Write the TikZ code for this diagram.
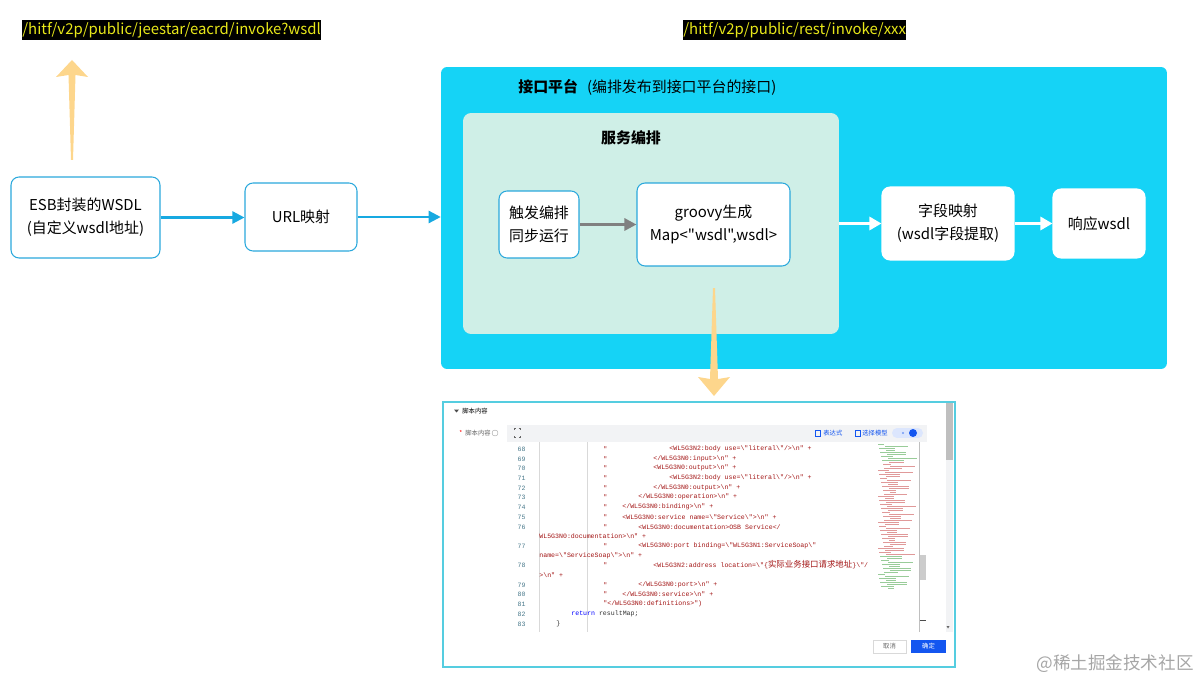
\documentclass[tikz,border=0pt]{standalone}
\usepackage{fontspec}
\setmainfont{Noto Sans CJK SC}[Ligatures=TeXOff]
\newfontfamily\codefont{Liberation Mono}[Ligatures=TeXOff]
\newfontfamily\cjk{Noto Sans CJK SC}[Ligatures=TeXOff]
\usepackage{xcolor}
\usetikzlibrary{arrows.meta,positioning}
\definecolor{platcyan}{HTML}{15D3F6}
\definecolor{svcmint}{HTML}{CFEFE7}
\definecolor{boxblue}{HTML}{2AA8DC}
\definecolor{arrblue}{HTML}{17A9E1}
\definecolor{fatorange}{HTML}{FDD68C}
\definecolor{urlyellow}{HTML}{E8E81A}
\definecolor{shotcyan}{HTML}{55CDE0}
\definecolor{codered}{HTML}{A31515}
\definecolor{lnblue}{HTML}{4A7A8C}
\definecolor{uiblue}{HTML}{1456F0}
\definecolor{toolgray}{HTML}{F2F3F5}
\newcommand{\bsq}{\textbackslash"}
\newcommand{\bsn}{\textbackslash n}

\begin{document}
\begin{tikzpicture}[x=0.02cm, y=-0.02cm,
    flowbox/.style={draw=boxblue, fill=white, rounded corners=0.16cm, line width=0.6pt, align=center, font=\fontsize{8.5}{13}\selectfont},
    innerbox/.style={flowbox, draw=white},
    urltag/.style={fill=black, text=urlyellow, inner xsep=0pt, inner ysep=0pt, minimum height=0.4cm, anchor=west, font=\fontsize{8.5}{10}\selectfont},
    bluearr/.style={-{Triangle[length=0.24cm, width=0.24cm]}, draw=arrblue, line width=1.3pt},
    whitearr/.style={-{Triangle[length=0.24cm, width=0.26cm]}, draw=white, line width=1.6pt},
    grayarr/.style={-{Triangle[length=0.24cm, width=0.24cm]}, draw=gray, line width=1.6pt},
    uitext/.style={inner sep=0pt, anchor=west, font=\fontsize{3.6}{4}\selectfont},
    codeline/.style={inner sep=0pt, anchor=west, text=codered, font=\codefont\fontsize{3.75}{4.5}\selectfont},
    lineno/.style={inner sep=0pt, anchor=east, text=lnblue, font=\codefont\fontsize{3.75}{4.5}\selectfont}
]
\useasboundingbox (0,0) rectangle (1200,682);

\node[urltag] (wsdlurl) at (22,30) {/hitf/v2p/public/jeestar/eacrd/invoke?wsdl};
\node[urltag] (resturl) at (683,30) {/hitf/v2p/public/rest/invoke/xxx};

\fill[fatorange] (72,60) -- (88,77) -- (75.5,75) -- (73,160) -- (71,160) -- (68.5,75) -- (56,77) -- cycle;

\node[flowbox, minimum width=2.98cm, minimum height=1.62cm] (esb) at (85.5,217.5) {ESB封装的WSDL\\(自定义wsdl地址)};
\node[flowbox, minimum width=2.24cm, minimum height=1.36cm] (url) at (301,217) {URL映射};

\node[fill=platcyan, rounded corners=0.12cm, minimum width=14.52cm, minimum height=6.04cm] (plat) at (804,218) {};
\node[anchor=west, inner sep=0pt, font=\fontsize{8.5}{13}\selectfont] (plattitle) at (518,87) {\textbf{接口平台}\hspace{0.6em}(编排发布到接口平台的接口)};
\node[fill=svcmint, rounded corners=0.16cm, minimum width=7.52cm, minimum height=4.42cm] (svc) at (651,223.5) {};
\node[font=\bfseries\fontsize{8.5}{13}\selectfont, inner sep=0pt] (svctitle) at (631,138) {服务编排};

\node[flowbox, minimum width=1.6cm, minimum height=1.34cm] (trig) at (539,224.5) {触发编排\\同步运行};
\node[flowbox, minimum width=3.06cm, minimum height=1.66cm] (groovy) at (713.5,224.5) {groovy生成\\Map<"wsdl",wsdl>};
\node[innerbox, minimum width=2.64cm, minimum height=1.46cm] (fieldmap) at (948,223.5) {字段映射\\(wsdl字段提取)};
\node[innerbox, minimum width=1.84cm, minimum height=1.38cm] (resp) at (1099,223.5) {响应wsdl};

\draw[bluearr] (esb.east) -- (esb.east -| url.west);
\draw[bluearr] (url.east) -- (url.east -| plat.west);
\draw[grayarr] (trig.east) -- (trig.east -| groovy.west);
\draw[whitearr] (svc.east) -- (svc.east -| fieldmap.west);
\draw[whitearr] (fieldmap.east) -- (fieldmap.east -| resp.west);

\fill[fatorange] (714,396) -- (730,377) -- (718,379) -- (715,288) -- (713,288) -- (710,379) -- (698,377) -- cycle;

\node[draw=shotcyan, fill=white, line width=0.8pt, minimum width=10.24cm, minimum height=5.3cm] (shot) at (699,534.5) {};
\fill[black!70] (454,409.5) -- (459,409.5) -- (456.5,412.5) -- cycle;
\node[uitext] (shothdr) at (462,411) {脚本内容};
\node[uitext, text=red] (star) at (459,433) {*};
\node[uitext, text=black!60] (fieldlbl) at (465,433) {脚本内容};
\draw[black!40, line width=0.2pt] (495,433) circle (3);
\fill[toolgray] (507,425) rectangle (927,442);
\draw[black!60, line width=0.3pt] (514,430) -- (514,428.5) -- (515.5,428.5) (518.5,428.5) -- (520,428.5) -- (520,430) (520,436) -- (520,437.5) -- (518.5,437.5) (515.5,437.5) -- (514,437.5) -- (514,436);
\draw[uiblue, line width=0.3pt] (815,430) rectangle (820,436);
\node[uitext, text=uiblue] (exprbtn) at (823,433) {表达式};
\draw[uiblue, line width=0.3pt] (855,430) rectangle (860,436);
\node[uitext, text=uiblue] (modelbtn) at (862,433) {选择模型};
\fill[uiblue!15] (897,428) rectangle (918,438);
\fill[uiblue!15] (897,433) circle (5) (918,433) circle (5);
\fill[uiblue!60] (903,433) circle (1.2);
\fill[uiblue] (913,433) circle (4);

\draw[black!15, line width=0.3pt] (539,442) -- (539,632) (587,442) -- (587,632);
\foreach \yy/\num in {449/68,459/69,468/70,478/71,488/72,497/73,507/74,517/75,527/76,546/77,565/78,585/79,594/80,604/81,614/82,624/83}
    \node[lineno] at (526,\yy) {\num};
\foreach \yy in {449,459,468,478,488,497,507,517,527,546,565,585,594}
    \node[codeline] at (603,\yy) {"};
\node[codeline] at (669,449) {<WL5G3N2:body use=\bsq literal\bsq/>\bsn" +};
\node[codeline] at (653,459) {</WL5G3N0:input>\bsn" +};
\node[codeline] at (653,468) {<WL5G3N0:output>\bsn" +};
\node[codeline] at (669,478) {<WL5G3N2:body use=\bsq literal\bsq/>\bsn" +};
\node[codeline] at (653,488) {</WL5G3N0:output>\bsn" +};
\node[codeline] at (638,497) {</WL5G3N0:operation>\bsn" +};
\node[codeline] at (622,507) {</WL5G3N0:binding>\bsn" +};
\node[codeline] at (622,517) {<WL5G3N0:service name=\bsq Service\bsq>\bsn" +};
\node[codeline] at (638,527) {<WL5G3N0:documentation>OSB Service</};
\node[codeline] at (539,536) {WL5G3N0:documentation>\bsn" +};
\node[codeline] at (638,546) {<WL5G3N0:port binding=\bsq WL5G3N1:ServiceSoap\bsq};
\node[codeline] at (539,556) {name=\bsq ServiceSoap\bsq>\bsn" +};
\node[codeline] at (653,565) {<WL5G3N2:address location=\bsq\{{\cjk\fontsize{4.8}{5}\selectfont 实际业务接口请求地址}\}\bsq/};
\node[codeline] at (539,575) {>\bsn" +};
\node[codeline] at (638,585) {</WL5G3N0:port>\bsn" +};
\node[codeline] at (622,594) {</WL5G3N0:service>\bsn" +};
\node[codeline] at (603,604) {"</WL5G3N0:definitions>")};
\node[codeline] at (571,614) {\textcolor{blue}{return} \textcolor{black!80}{resultMap;}};
\node[codeline, text=black!80] at (556,624) {\}};

\foreach \i in {0,...,72}{
    \pgfmathsetmacro\len{6+mod(\i*17,24)}
    \pgfmathsetmacro\off{mod(\i*7,13)}
    \ifnum\i<9 \def\mmcol{green!50!black}\else\ifnum\i>55 \def\mmcol{green!50!black}\else\def\mmcol{red!70!black}\fi\fi
    \draw[\mmcol, line width=0.25pt, opacity=0.4] (878+\off,444+2*\i) -- ++(\len,0);
}
\draw[black!25, line width=0.3pt] (919,442) -- (919,632);
\fill[black!20] (920,555) rectangle (926,580);
\draw[black!70, line width=0.3pt] (920,620) -- (926,620);
\fill[toolgray] (946,403) rectangle (953,632);
\fill[black!25] (946,403) rectangle (953,460);
\fill[black!60] (946.5,626) -- (949.5,626) -- (948,628.5) -- cycle;

\node[draw=black!15, line width=0.3pt, minimum width=0.66cm, minimum height=0.26cm, inner sep=0pt, text=black!60, font=\fontsize{3.6}{4}\selectfont] (cancel) at (889.5,646.5) {取消};
\node[fill=uiblue, minimum width=0.7cm, minimum height=0.26cm, inner sep=0pt, text=white, font=\fontsize{3.6}{4}\selectfont] (ok) at (928.5,646.5) {确定};

\node[anchor=east, inner sep=0pt, text=black!35, font=\fontsize{10}{12}\selectfont] (watermark) at (1194,664) {@稀土掘金技术社区};
\end{tikzpicture}
\end{document}
